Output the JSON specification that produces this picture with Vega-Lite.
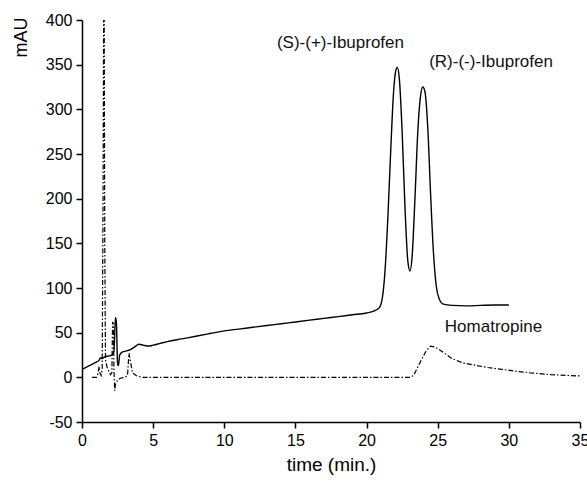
{
  "$schema": "https://vega.github.io/schema/vega-lite/v6.json",
  "autosize": {"type": "none"},
  "width": 498,
  "height": 402,
  "padding": {"left": 82, "top": 20, "right": 7, "bottom": 59},
  "background": "white",
  "config": {
    "view": {"stroke": null},
    "font": "Liberation Sans",
    "axis": {
      "grid": false,
      "ticks": true,
      "labelFlush": false,
      "domainColor": "#000",
      "domainWidth": 1.5,
      "tickColor": "#000",
      "tickWidth": 1.5,
      "tickSize": 6,
      "labelColor": "#000",
      "titleColor": "#000",
      "labelFont": "Liberation Sans",
      "titleFont": "Liberation Sans",
      "labelFontSize": 16,
      "titleFontSize": 18,
      "titleFontWeight": "normal"
    }
  },
  "datasets": {
    "traces": [
      {"series": "ibu", "t": 0, "v": 9},
      {"series": "ibu", "t": 0.5, "v": 13},
      {"series": "ibu", "t": 1.0, "v": 17},
      {"series": "ibu", "t": 1.2, "v": 19},
      {"series": "ibu", "t": 1.3, "v": 22},
      {"series": "ibu", "t": 1.4, "v": 21},
      {"series": "ibu", "t": 1.6, "v": 23},
      {"series": "ibu", "t": 1.9, "v": 24},
      {"series": "ibu", "t": 2.1, "v": 25},
      {"series": "ibu", "t": 2.25, "v": 30},
      {"series": "ibu", "t": 2.35, "v": 67},
      {"series": "ibu", "t": 2.42, "v": 60},
      {"series": "ibu", "t": 2.5, "v": 15},
      {"series": "ibu", "t": 2.56, "v": 13},
      {"series": "ibu", "t": 2.65, "v": 25},
      {"series": "ibu", "t": 2.8, "v": 28},
      {"series": "ibu", "t": 3.0, "v": 29},
      {"series": "ibu", "t": 3.4, "v": 31},
      {"series": "ibu", "t": 3.7, "v": 34},
      {"series": "ibu", "t": 4.0, "v": 37},
      {"series": "ibu", "t": 4.3, "v": 36},
      {"series": "ibu", "t": 4.7, "v": 35},
      {"series": "ibu", "t": 5.0, "v": 36},
      {"series": "ibu", "t": 5.5, "v": 38},
      {"series": "ibu", "t": 6.0, "v": 40},
      {"series": "ibu", "t": 7.0, "v": 43},
      {"series": "ibu", "t": 8.0, "v": 46},
      {"series": "ibu", "t": 9.0, "v": 49},
      {"series": "ibu", "t": 10.0, "v": 52},
      {"series": "ibu", "t": 11.0, "v": 54},
      {"series": "ibu", "t": 12.0, "v": 56},
      {"series": "ibu", "t": 13.0, "v": 58},
      {"series": "ibu", "t": 14.0, "v": 60},
      {"series": "ibu", "t": 15.0, "v": 62},
      {"series": "ibu", "t": 16.0, "v": 64},
      {"series": "ibu", "t": 17.0, "v": 66},
      {"series": "ibu", "t": 18.0, "v": 68},
      {"series": "ibu", "t": 19.0, "v": 70},
      {"series": "ibu", "t": 20.0, "v": 72},
      {"series": "ibu", "t": 20.5, "v": 74},
      {"series": "ibu", "t": 20.9, "v": 78},
      {"series": "ibu", "t": 21.1, "v": 88},
      {"series": "ibu", "t": 21.3, "v": 120},
      {"series": "ibu", "t": 21.5, "v": 180},
      {"series": "ibu", "t": 21.7, "v": 255},
      {"series": "ibu", "t": 21.9, "v": 320},
      {"series": "ibu", "t": 22.05, "v": 343},
      {"series": "ibu", "t": 22.16, "v": 347},
      {"series": "ibu", "t": 22.3, "v": 335},
      {"series": "ibu", "t": 22.5, "v": 275},
      {"series": "ibu", "t": 22.7, "v": 190},
      {"series": "ibu", "t": 22.9, "v": 130},
      {"series": "ibu", "t": 23.05, "v": 119},
      {"series": "ibu", "t": 23.2, "v": 135},
      {"series": "ibu", "t": 23.4, "v": 200},
      {"series": "ibu", "t": 23.6, "v": 275},
      {"series": "ibu", "t": 23.8, "v": 316},
      {"series": "ibu", "t": 23.95, "v": 325},
      {"series": "ibu", "t": 24.1, "v": 320},
      {"series": "ibu", "t": 24.3, "v": 280},
      {"series": "ibu", "t": 24.5, "v": 205},
      {"series": "ibu", "t": 24.7, "v": 140},
      {"series": "ibu", "t": 24.9, "v": 102},
      {"series": "ibu", "t": 25.1, "v": 88},
      {"series": "ibu", "t": 25.4, "v": 82},
      {"series": "ibu", "t": 26.0, "v": 80.5},
      {"series": "ibu", "t": 27.0, "v": 80},
      {"series": "ibu", "t": 28.0, "v": 80.5},
      {"series": "ibu", "t": 29.0, "v": 81},
      {"series": "ibu", "t": 30.0, "v": 81},
      {"series": "homa", "t": 0.7, "v": 0},
      {"series": "homa", "t": 1.0, "v": 0},
      {"series": "homa", "t": 1.1, "v": 3},
      {"series": "homa", "t": 1.2, "v": 12},
      {"series": "homa", "t": 1.25, "v": 5},
      {"series": "homa", "t": 1.35, "v": 2},
      {"series": "homa", "t": 1.42, "v": 10},
      {"series": "homa", "t": 1.48, "v": 200},
      {"series": "homa", "t": 1.52, "v": 400},
      {"series": "homa", "t": 1.56, "v": 400},
      {"series": "homa", "t": 1.6, "v": 150},
      {"series": "homa", "t": 1.65, "v": 20},
      {"series": "homa", "t": 1.75, "v": 12},
      {"series": "homa", "t": 1.9, "v": 6},
      {"series": "homa", "t": 2.0, "v": 3},
      {"series": "homa", "t": 2.1, "v": 5},
      {"series": "homa", "t": 2.15, "v": 62},
      {"series": "homa", "t": 2.2, "v": 60},
      {"series": "homa", "t": 2.25, "v": 5},
      {"series": "homa", "t": 2.3, "v": -15},
      {"series": "homa", "t": 2.35, "v": -8},
      {"series": "homa", "t": 2.5, "v": -3},
      {"series": "homa", "t": 2.7, "v": -1},
      {"series": "homa", "t": 3.0, "v": 0},
      {"series": "homa", "t": 3.2, "v": 2},
      {"series": "homa", "t": 3.3, "v": 27},
      {"series": "homa", "t": 3.4, "v": 18},
      {"series": "homa", "t": 3.55, "v": 5},
      {"series": "homa", "t": 3.8, "v": 2},
      {"series": "homa", "t": 4.2, "v": 0},
      {"series": "homa", "t": 10.0, "v": 0},
      {"series": "homa", "t": 20.0, "v": 0},
      {"series": "homa", "t": 23.0, "v": 0},
      {"series": "homa", "t": 23.3, "v": 2},
      {"series": "homa", "t": 23.8, "v": 18},
      {"series": "homa", "t": 24.2, "v": 30},
      {"series": "homa", "t": 24.5, "v": 35},
      {"series": "homa", "t": 24.8, "v": 34},
      {"series": "homa", "t": 25.3, "v": 29},
      {"series": "homa", "t": 26.0, "v": 21},
      {"series": "homa", "t": 26.8, "v": 16},
      {"series": "homa", "t": 27.5, "v": 14},
      {"series": "homa", "t": 28.5, "v": 11},
      {"series": "homa", "t": 29.5, "v": 9},
      {"series": "homa", "t": 30.4, "v": 7},
      {"series": "homa", "t": 31.5, "v": 5},
      {"series": "homa", "t": 33.0, "v": 3},
      {"series": "homa", "t": 35.0, "v": 1.5}
    ],
    "labels": [
      {"t": 13.7, "v": 374, "text": "(S)-(+)-Ibuprofen"},
      {"t": 24.4, "v": 353, "text": "(R)-(-)-Ibuprofen"},
      {"t": 25.5, "v": 56, "text": "Homatropine"}
    ]
  },
  "layer": [
    {
      "data": {"name": "traces"},
      "transform": [{"filter": "datum.series === 'ibu'"}],
      "mark": {"type": "line", "color": "#000", "strokeWidth": 1.4, "clip": true, "interpolate": "monotone"},
      "encoding": {
        "x": {
          "field": "t", "type": "quantitative",
          "scale": {"domain": [0, 35], "nice": false},
          "axis": {
            "title": "time (min.)",
            "titleFontSize": 19,
            "values": [0, 2.5, 5, 7.5, 10, 12.5, 15, 17.5, 20, 22.5, 25, 27.5, 30, 32.5, 35],
            "labelExpr": "datum.value % 5 === 0 ? datum.label : ''",
            "labelPadding": 4,
            "titlePadding": 7
          }
        },
        "y": {
          "field": "v", "type": "quantitative",
          "scale": {"domain": [-50, 400], "nice": false},
          "axis": {
            "title": "mAU",
            "values": [-50, -25, 0, 25, 50, 75, 100, 125, 150, 175, 200, 225, 250, 275, 300, 325, 350, 375, 400],
            "labelExpr": "datum.value % 50 === 0 ? replace(datum.label, '\u2212', '-') : ''",
            "labelPadding": 4,
            "titleAngle": -90,
            "titleX": -61,
            "titleY": 17,
            "titleAlign": "center",
            "titleBaseline": "middle"
          }
        }
      }
    },
    {
      "data": {"name": "traces"},
      "transform": [{"filter": "datum.series === 'homa'"}],
      "mark": {"type": "line", "color": "#000", "strokeWidth": 1.2, "strokeDash": [5, 2, 1.5, 2], "clip": true},
      "encoding": {
        "x": {"field": "t", "type": "quantitative"},
        "y": {"field": "v", "type": "quantitative"}
      }
    },
    {
      "data": {"name": "labels"},
      "mark": {"type": "text", "align": "left", "baseline": "middle", "fontSize": 17, "color": "#111", "font": "Liberation Sans"},
      "encoding": {
        "x": {"field": "t", "type": "quantitative"},
        "y": {"field": "v", "type": "quantitative"},
        "text": {"field": "text"}
      }
    }
  ]
}
